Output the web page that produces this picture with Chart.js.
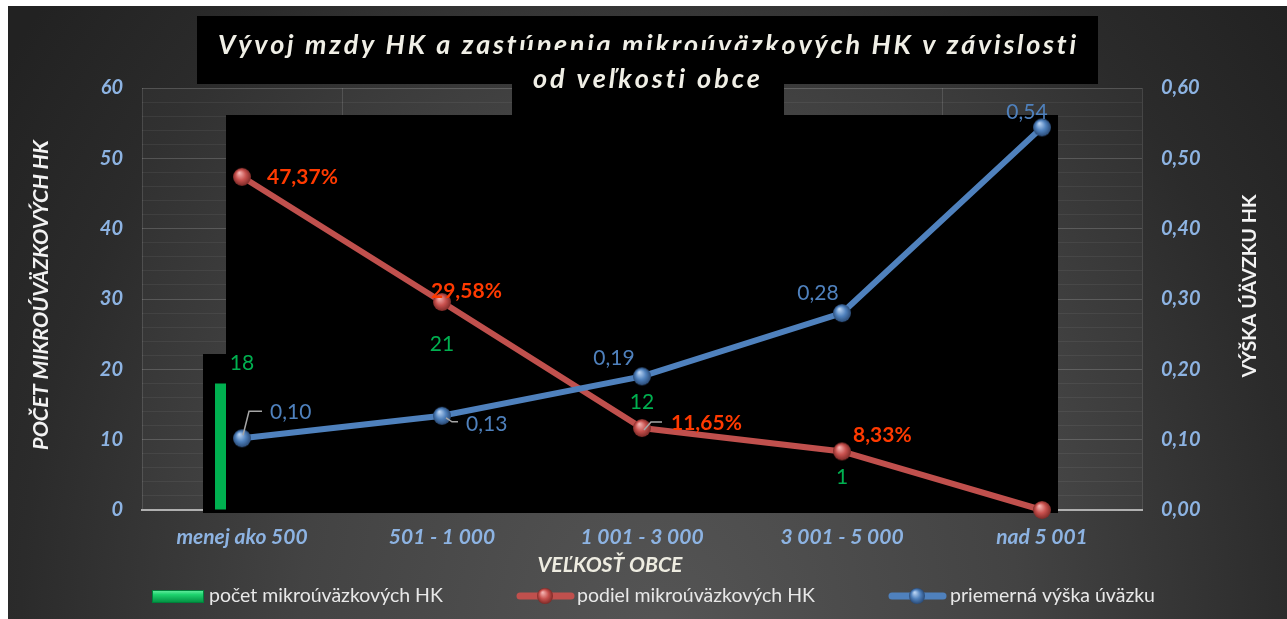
<!DOCTYPE html>
<html><head><meta charset="utf-8">
<script src="https://cdn.jsdelivr.net/npm/chart.js@4.4.1/dist/chart.umd.min.js"></script>
<style>html,body{margin:0;padding:0;background:#fff;overflow:hidden}canvas{display:block}</style>
</head><body><canvas id="c" width="1287" height="619"></canvas>
<script>
// ---- data ----
const categories = ['menej ako 500', '501 - 1 000', '1 001 - 3 000', '3 001 - 5 000', 'nad 5 001'];
const countMicro = [18, 21, 12, 1, 0];
const shareMicro = [47.37, 29.58, 11.65, 8.33, 0];
const avgLoad = [0.102, 0.134, 0.19, 0.28, 0.544];
const countLabels = ['18', '21', '12', '1', ''];
const shareLabels = ['47,37%', '29,58%', '11,65%', '8,33%', ''];
const loadLabels = ['0,10', '0,13', '0,19', '0,28', '0,54'];
const leftTickLabels = ['0', '10', '20', '30', '40', '50', '60'];
const rightTickLabels = ['0,00', '0,10', '0,20', '0,30', '0,40', '0,50', '0,60'];
const seriesNames = ['počet mikroúväzkových HK', 'podiel mikroúväzkových HK', 'priemerná výška úväzku'];
const titleLines = ['Vývoj mzdy HK a zastúpenia mikroúväzkových HK v závislosti', 'od veľkosti obce'];
const xTitle = 'VEĽKOSŤ OBCE';
const yTitle = 'POČET MIKROÚVÄZKOVÝCH HK';
const y1Title = 'VÝŠKA ÚÄVZKU HK';

// ---- styling ----
const W = 1287, H = 619;
const FONT = 'Lato, "Open Sans", "DejaVu Sans", sans-serif';
const TICK_COLOR = '#8db3e2';
const GREEN = '#00b050', RED = '#c0504d', BLUE = '#4f81bd';
const RED_TXT = '#ff3a00', BLUE_TXT = '#4f81bd', GREEN_TXT = '#00b050';

function sphere(r, light, base, dark) {
  const c = document.createElement('canvas');
  const s = 2 * r + 2; c.width = s; c.height = s;
  const g = c.getContext('2d'); const cx = s / 2, cy = s / 2;
  const grd = g.createRadialGradient(cx - r * 0.3, cy - r * 0.45, r * 0.05, cx, cy, r);
  grd.addColorStop(0, light); grd.addColorStop(0.55, base); grd.addColorStop(1, dark);
  g.fillStyle = grd; g.beginPath(); g.arc(cx, cy, r, 0, Math.PI * 2); g.fill();
  return c;
}
const redSphere = sphere(9, '#f4b3b1', '#c8514e', '#7d2a27');
const blueSphere = sphere(9, '#b9d3f2', '#4f81bd', '#2a4a75');
const redSphereS = sphere(8, '#f4b3b1', '#c8514e', '#7d2a27');
const blueSphereS = sphere(8, '#b9d3f2', '#4f81bd', '#2a4a75');

function fitSize(ctx, text, tpl, target) {
  ctx.font = tpl(20);
  return 20 * target / ctx.measureText(text).width;
}
function spacedText(ctx, text, x, y, target) {
  let w = 0; const ws = [];
  for (const ch of text) { const m = ctx.measureText(ch).width; ws.push(m); w += m; }
  const n = ws.length;
  const ls = (target - w) / (n - 1);
  let cx = x; let i = 0;
  for (const ch of text) { ctx.fillText(ch, cx, y); cx += ws[i++] + ls; }
}

const deco = {
  id: 'deco',
  beforeDraw(chart) {
    const ctx = chart.ctx; const ca = chart.chartArea;
    ctx.save();
    ctx.fillStyle = '#fff'; ctx.fillRect(0, 0, W, H);
    ctx.beginPath(); ctx.rect(8, 6, W - 8, H - 6); ctx.clip();
    ctx.translate(660, 640); ctx.scale(1, 1.25);
    const g = ctx.createRadialGradient(0, 0, 0, 0, 0, 800);
    g.addColorStop(0, '#555555'); g.addColorStop(0.45, '#434343');
    g.addColorStop(0.8, '#2b2b2b'); g.addColorStop(1, '#222222');
    ctx.fillStyle = g; ctx.fillRect(-1200, -1200, 2400, 2400);
    ctx.restore();
    ctx.save();
    ctx.fillStyle = 'rgba(255,255,255,0.03)';
    ctx.fillRect(ca.left, ca.top, ca.right - ca.left, ca.bottom - ca.top);
    ctx.restore();
  },
  beforeDatasetsDraw(chart) {
    const ctx = chart.ctx; const ca = chart.chartArea;
    ctx.save(); ctx.fillStyle = '#000';
    ctx.fillRect(ca.left + 61, ca.top + 266, 23, ca.bottom - ca.top - 266 + 3);
    ctx.restore();
  },
  afterDatasetDraw(chart, args) {
    if (args.index !== 0) return;
    const ctx = chart.ctx; const ca = chart.chartArea;
    ctx.save();
    ctx.fillStyle = '#000';
    ctx.fillRect(197, 16, 901, 68);
    // title line 1
    const tpl = s => `italic bold ${s}px ${FONT}`;
    ctx.font = tpl(27); ctx.fillStyle = '#f0efe6'; ctx.textBaseline = 'alphabetic'; ctx.textAlign = 'left';
    spacedText(ctx, titleLines[0], 218, 54, 858);
    ctx.fillStyle = '#000';
    ctx.fillRect(512, 50, 272, ca.top + 27 - 50);
    ctx.fillStyle = '#f0efe6';
    spacedText(ctx, titleLines[1], 533, 88, 227);
    // big overlay
    ctx.fillStyle = '#000';
    ctx.fillRect(ca.left + 84, ca.top + 27, 832, ca.bottom - ca.top - 27 + 3);
    ctx.restore();
  },
  afterDatasetsDraw(chart) {
    const ctx = chart.ctx;
    ctx.save();
    ctx.textBaseline = 'middle';
    // green count labels
    const bm = chart.getDatasetMeta(0);
    const gOff = [-20, -18, -23, -26, -20];
    ctx.font = `21px ${FONT}`; ctx.fillStyle = GREEN_TXT; ctx.textAlign = 'center';
    bm.data.forEach((el, j) => { if (countLabels[j]) ctx.fillText(countLabels[j], el.x, el.y + gOff[j]); });
    // leader lines
    const rm = chart.getDatasetMeta(1), lm = chart.getDatasetMeta(2);
    ctx.strokeStyle = '#a6a6a6'; ctx.lineWidth = 1.5;
    const lead = (el, pts) => { ctx.beginPath(); ctx.moveTo(el.x + pts[0][0], el.y + pts[0][1]); for (let k = 1; k < pts.length; k++) ctx.lineTo(el.x + pts[k][0], el.y + pts[k][1]); ctx.stroke(); };
    lead(lm.data[0], [[1, -3], [7, -27], [20, -27]]);
    lead(lm.data[1], [[4, 2], [10, 6], [16, 6]]);
    lead(rm.data[2], [[2, 2], [9, -6], [20, -6]]);
    // red share labels
    const rOff = [[25, 0], [-11, -11], [29, -5], [11, -16], [0, 0]];
    ctx.font = `bold 21px ${FONT}`; ctx.fillStyle = RED_TXT; ctx.textAlign = 'left';
    rm.data.forEach((el, j) => { if (shareLabels[j]) ctx.fillText(shareLabels[j], el.x + rOff[j][0], el.y + rOff[j][1]); });
    // blue load labels
    const lOff = [[28, -26, 'left'], [24, 8, 'left'], [-28, -18, 'center'], [-24, -20, 'center'], [-15, -15, 'center']];
    ctx.font = `21px ${FONT}`; ctx.fillStyle = BLUE_TXT;
    lm.data.forEach((el, j) => { ctx.textAlign = lOff[j][2]; ctx.fillText(loadLabels[j], el.x + lOff[j][0], el.y + lOff[j][1]); });
    ctx.restore();
  },
  afterDraw(chart) {
    const ctx = chart.ctx;
    ctx.save();
    ctx.textBaseline = 'middle'; ctx.textAlign = 'center';
    // axis titles
    let tpl = s => `italic bold ${s}px ${FONT}`;
    let s = fitSize(ctx, yTitle, tpl, 310);
    ctx.font = tpl(s); ctx.fillStyle = '#f2f2f2';
    ctx.save(); ctx.translate(41, 295); ctx.rotate(-Math.PI / 2); ctx.fillText(yTitle, 0, 0); ctx.restore();
    tpl = s => `bold ${s}px ${FONT}`;
    s = fitSize(ctx, y1Title, tpl, 183);
    ctx.font = tpl(s);
    ctx.save(); ctx.translate(1250, 286); ctx.rotate(-Math.PI / 2); ctx.fillText(y1Title, 0, 0); ctx.restore();
    tpl = s => `italic bold ${s}px ${FONT}`;
    s = fitSize(ctx, xTitle, tpl, 145);
    ctx.font = tpl(s); ctx.fillStyle = '#eeece1';
    ctx.fillText(xTitle, 610, 565);
    // legend
    const ly = 596;
    const lt = s => `${s}px ${FONT}`;
    s = fitSize(ctx, seriesNames[0], lt, 234);
    const gg = ctx.createLinearGradient(0, 590, 0, 603);
    gg.addColorStop(0, '#6ff0a6'); gg.addColorStop(0.35, '#1ed36e'); gg.addColorStop(1, '#008c3f');
    ctx.fillStyle = gg; ctx.fillRect(152, 590, 52, 13);
    ctx.strokeStyle = '#00813a'; ctx.lineWidth = 1; ctx.strokeRect(152.5, 590.5, 51, 12);
    ctx.lineCap = 'round'; ctx.lineWidth = 7;
    ctx.strokeStyle = RED; ctx.beginPath(); ctx.moveTo(520, ly); ctx.lineTo(571, ly); ctx.stroke();
    ctx.drawImage(redSphereS, 545 - redSphereS.width / 2, ly - redSphereS.height / 2);
    ctx.strokeStyle = BLUE; ctx.beginPath(); ctx.moveTo(892, ly); ctx.lineTo(943, ly); ctx.stroke();
    ctx.drawImage(blueSphereS, 917 - blueSphereS.width / 2, ly - blueSphereS.height / 2);
    ctx.font = lt(s); ctx.fillStyle = '#e8e8e8'; ctx.textAlign = 'left';
    ctx.fillText(seriesNames[0], 209, ly);
    ctx.fillText(seriesNames[1], 577, ly);
    ctx.fillText(seriesNames[2], 950, ly);
    ctx.restore();
  }
};

const yTickFont = { family: FONT, size: 20, weight: 'bold', style: 'italic' };
const xTickFont = { family: FONT, size: 21, weight: 'bold', style: 'italic' };

new Chart(document.getElementById('c'), {
  type: 'bar',
  data: {
    labels: categories,
    datasets: [
      {
        type: 'bar', label: seriesNames[0], data: countMicro, yAxisID: 'y', order: 2,
        backgroundColor: GREEN, barPercentage: 0.27, categoryPercentage: 1
      },
      {
        type: 'line', label: seriesNames[1], data: shareMicro, yAxisID: 'y', order: 1,
        borderColor: RED, borderWidth: 6, pointStyle: redSphere, pointRadius: 9,
        tension: 0, clip: false, borderCapStyle: 'round'
      },
      {
        type: 'line', label: seriesNames[2], data: avgLoad, yAxisID: 'y1', order: 0,
        borderColor: BLUE, borderWidth: 6, pointStyle: blueSphere, pointRadius: 9,
        tension: 0, clip: false, borderCapStyle: 'round'
      }
    ]
  },
  options: {
    responsive: false, animation: false, devicePixelRatio: 1,
    layout: { padding: { top: 88, left: 0, right: 0, bottom: 0 } },
    plugins: { legend: { display: false }, title: { display: false }, tooltip: { enabled: false } },
    scales: {
      x: {
        offset: true,
        grid: { offset: true, color: 'rgba(255,255,255,0.13)', drawTicks: false },
        border: { color: '#b0b0b0', width: 2 },
        ticks: { color: TICK_COLOR, font: xTickFont, padding: 15, maxRotation: 0, autoSkip: false },
        afterFit(s) { s.height = 109; }
      },
      y: {
        position: 'left', min: 0, max: 60,
        ticks: { stepSize: 2, color: TICK_COLOR, font: yTickFont, padding: 19, autoSkip: false,
          callback: v => (v % 10 === 0 ? leftTickLabels[v / 10] : '') },
        grid: { drawTicks: false,
          color: c => (c.tick && c.tick.value % 10 === 0 ? 'rgba(255,255,255,0.17)' : 'rgba(255,255,255,0.06)') },
        border: { display: false },
        afterFit(s) { s.width = 142; }
      },
      y1: {
        position: 'right', min: 0, max: 0.6,
        ticks: { stepSize: 0.1, color: TICK_COLOR, font: yTickFont, padding: 19, autoSkip: false,
          callback: v => rightTickLabels[Math.round(v * 10)] },
        grid: { display: false, drawTicks: false },
        border: { display: false },
        afterFit(s) { s.width = 145; }
      }
    }
  },
  plugins: [deco]
});
</script>
</body></html>
